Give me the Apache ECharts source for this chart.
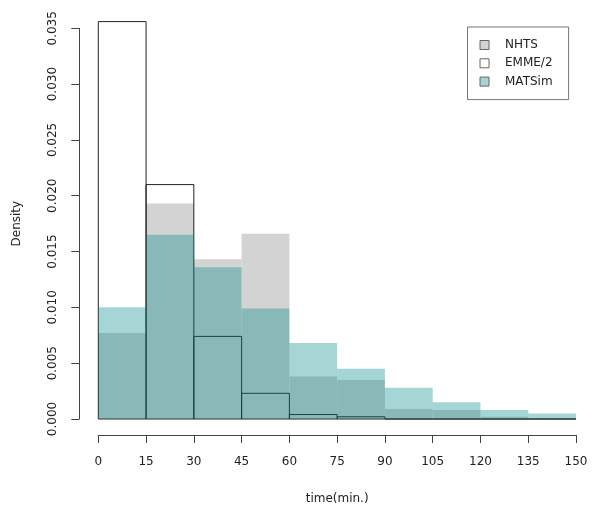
<!DOCTYPE html>
<html>
<head>
<meta charset="utf-8">
<script src="https://cdn.jsdelivr.net/npm/echarts@6/dist/echarts.min.js"></script>
<style>
html, body { margin: 0; padding: 0; background: #fff; }
#main { width: 592px; height: 510px; }
</style>
</head>
<body>
<div id="main"></div>
<script>
// histogram bins, 15 minutes wide
var binStart = [0, 15, 30, 45, 60, 75, 90, 105, 120, 135];
var binWidth = 15;
var xTicks = [0, 15, 30, 45, 60, 75, 90, 105, 120, 135, 150];

// densities
var nhts   = [0.0077, 0.0193, 0.0143, 0.0166, 0.0038, 0.0035, 0.0009, 0.0008, 0.0002, 0.0001];
var emme   = [0.0356, 0.0210, 0.0074, 0.0023, 0.0004, 0.0002, 0, 0, 0, 0];
var matsim = [0.0100, 0.0165, 0.0136, 0.0099, 0.0068, 0.0045, 0.0028, 0.0015, 0.0008, 0.0005];

var FONT = 'DejaVu Sans';

function toBins(vals) {
	var out = [];
	for (var i = 0; i < binStart.length; i++) {
		out.push([binStart[i], binStart[i] + binWidth, vals[i]]);
	}
	return out;
}

function renderBar(params, api) {
	var p0 = api.coord([api.value(0), 0]);
	var p1 = api.coord([api.value(1), api.value(2)]);
	return {
		type: 'rect',
		shape: { x: p0[0], y: p1[1], width: p1[0] - p0[0], height: p0[1] - p1[1] },
		style: api.style()
	};
}

function histSeries(name, vals, itemStyle, z) {
	return {
		name: name,
		type: 'custom',
		renderItem: renderBar,
		encode: { x: [0, 1], y: 2 },
		data: toBins(vals),
		itemStyle: itemStyle,
		z: z,
		silent: true
	};
}

var chart = echarts.init(document.getElementById('main'));
chart.setOption({
	animation: false,
	backgroundColor: '#fff',
	textStyle: { fontFamily: FONT },
	grid: { left: 98.3, right: 16, top: 28.3, bottom: 90.3, containLabel: false },
	legend: {
		orient: 'vertical',
		left: 467.5,
		top: 27,
		padding: [11.5, 16, 11.5, 12],
		borderColor: '#777',
		borderWidth: 1,
		itemWidth: 9,
		itemHeight: 9,
		itemGap: 5.3,
		icon: 'rect',
		textStyle: { fontFamily: FONT, fontSize: 12, color: '#222', padding: [0, 0, 0, 11], lineHeight: 13 },
		data: [
			{ name: 'NHTS', itemStyle: { color: '#d3d3d3', borderColor: '#666', borderWidth: 1 } },
			{ name: 'EMME/2', itemStyle: { color: '#fff', borderColor: '#666', borderWidth: 1 } },
			{ name: 'MATSim', itemStyle: { color: '#a6d4d4', borderColor: '#666', borderWidth: 1 } }
		]
	},
	xAxis: {
		type: 'value',
		min: 0,
		max: 150,
		interval: 15,
		offset: 16,
		name: 'time(min.)',
		nameLocation: 'middle',
		nameGap: 58,
		nameTextStyle: { fontFamily: FONT, fontSize: 12, color: '#222' },
		axisLine: { show: true, onZero: false, lineStyle: { color: '#444', width: 1 } },
		axisTick: { show: true, length: 8, lineStyle: { color: '#444' } },
		axisLabel: {
			fontFamily: FONT, fontSize: 12, color: '#222', margin: 21,
			formatter: function (v) { return xTicks.indexOf(v) >= 0 ? String(v) : ''; }
		},
		splitLine: { show: false }
	},
	yAxis: {
		type: 'value',
		min: 0,
		max: 0.035,
		interval: 0.005,
		offset: 19,
		name: 'Density',
		nameLocation: 'middle',
		nameGap: 56,
		nameTextStyle: { fontFamily: FONT, fontSize: 12, color: '#222' },
		axisLine: { show: true, onZero: false, lineStyle: { color: '#444', width: 1 } },
		axisTick: { show: true, length: 8, lineStyle: { color: '#444' } },
		axisLabel: {
			fontFamily: FONT, fontSize: 12, color: '#222', margin: 20, rotate: 90,
			formatter: function (v) { return v.toFixed(3); }
		},
		splitLine: { show: false }
	},
	series: [
		histSeries('NHTS', nhts, { color: '#d3d3d3' }, 1),
		histSeries('EMME/2', emme, { color: 'transparent', borderColor: '#222', borderWidth: 1 }, 2),
		histSeries('MATSim', matsim, { color: 'rgba(0,134,134,0.35)' }, 3)
	]
});
</script>
</body>
</html>
